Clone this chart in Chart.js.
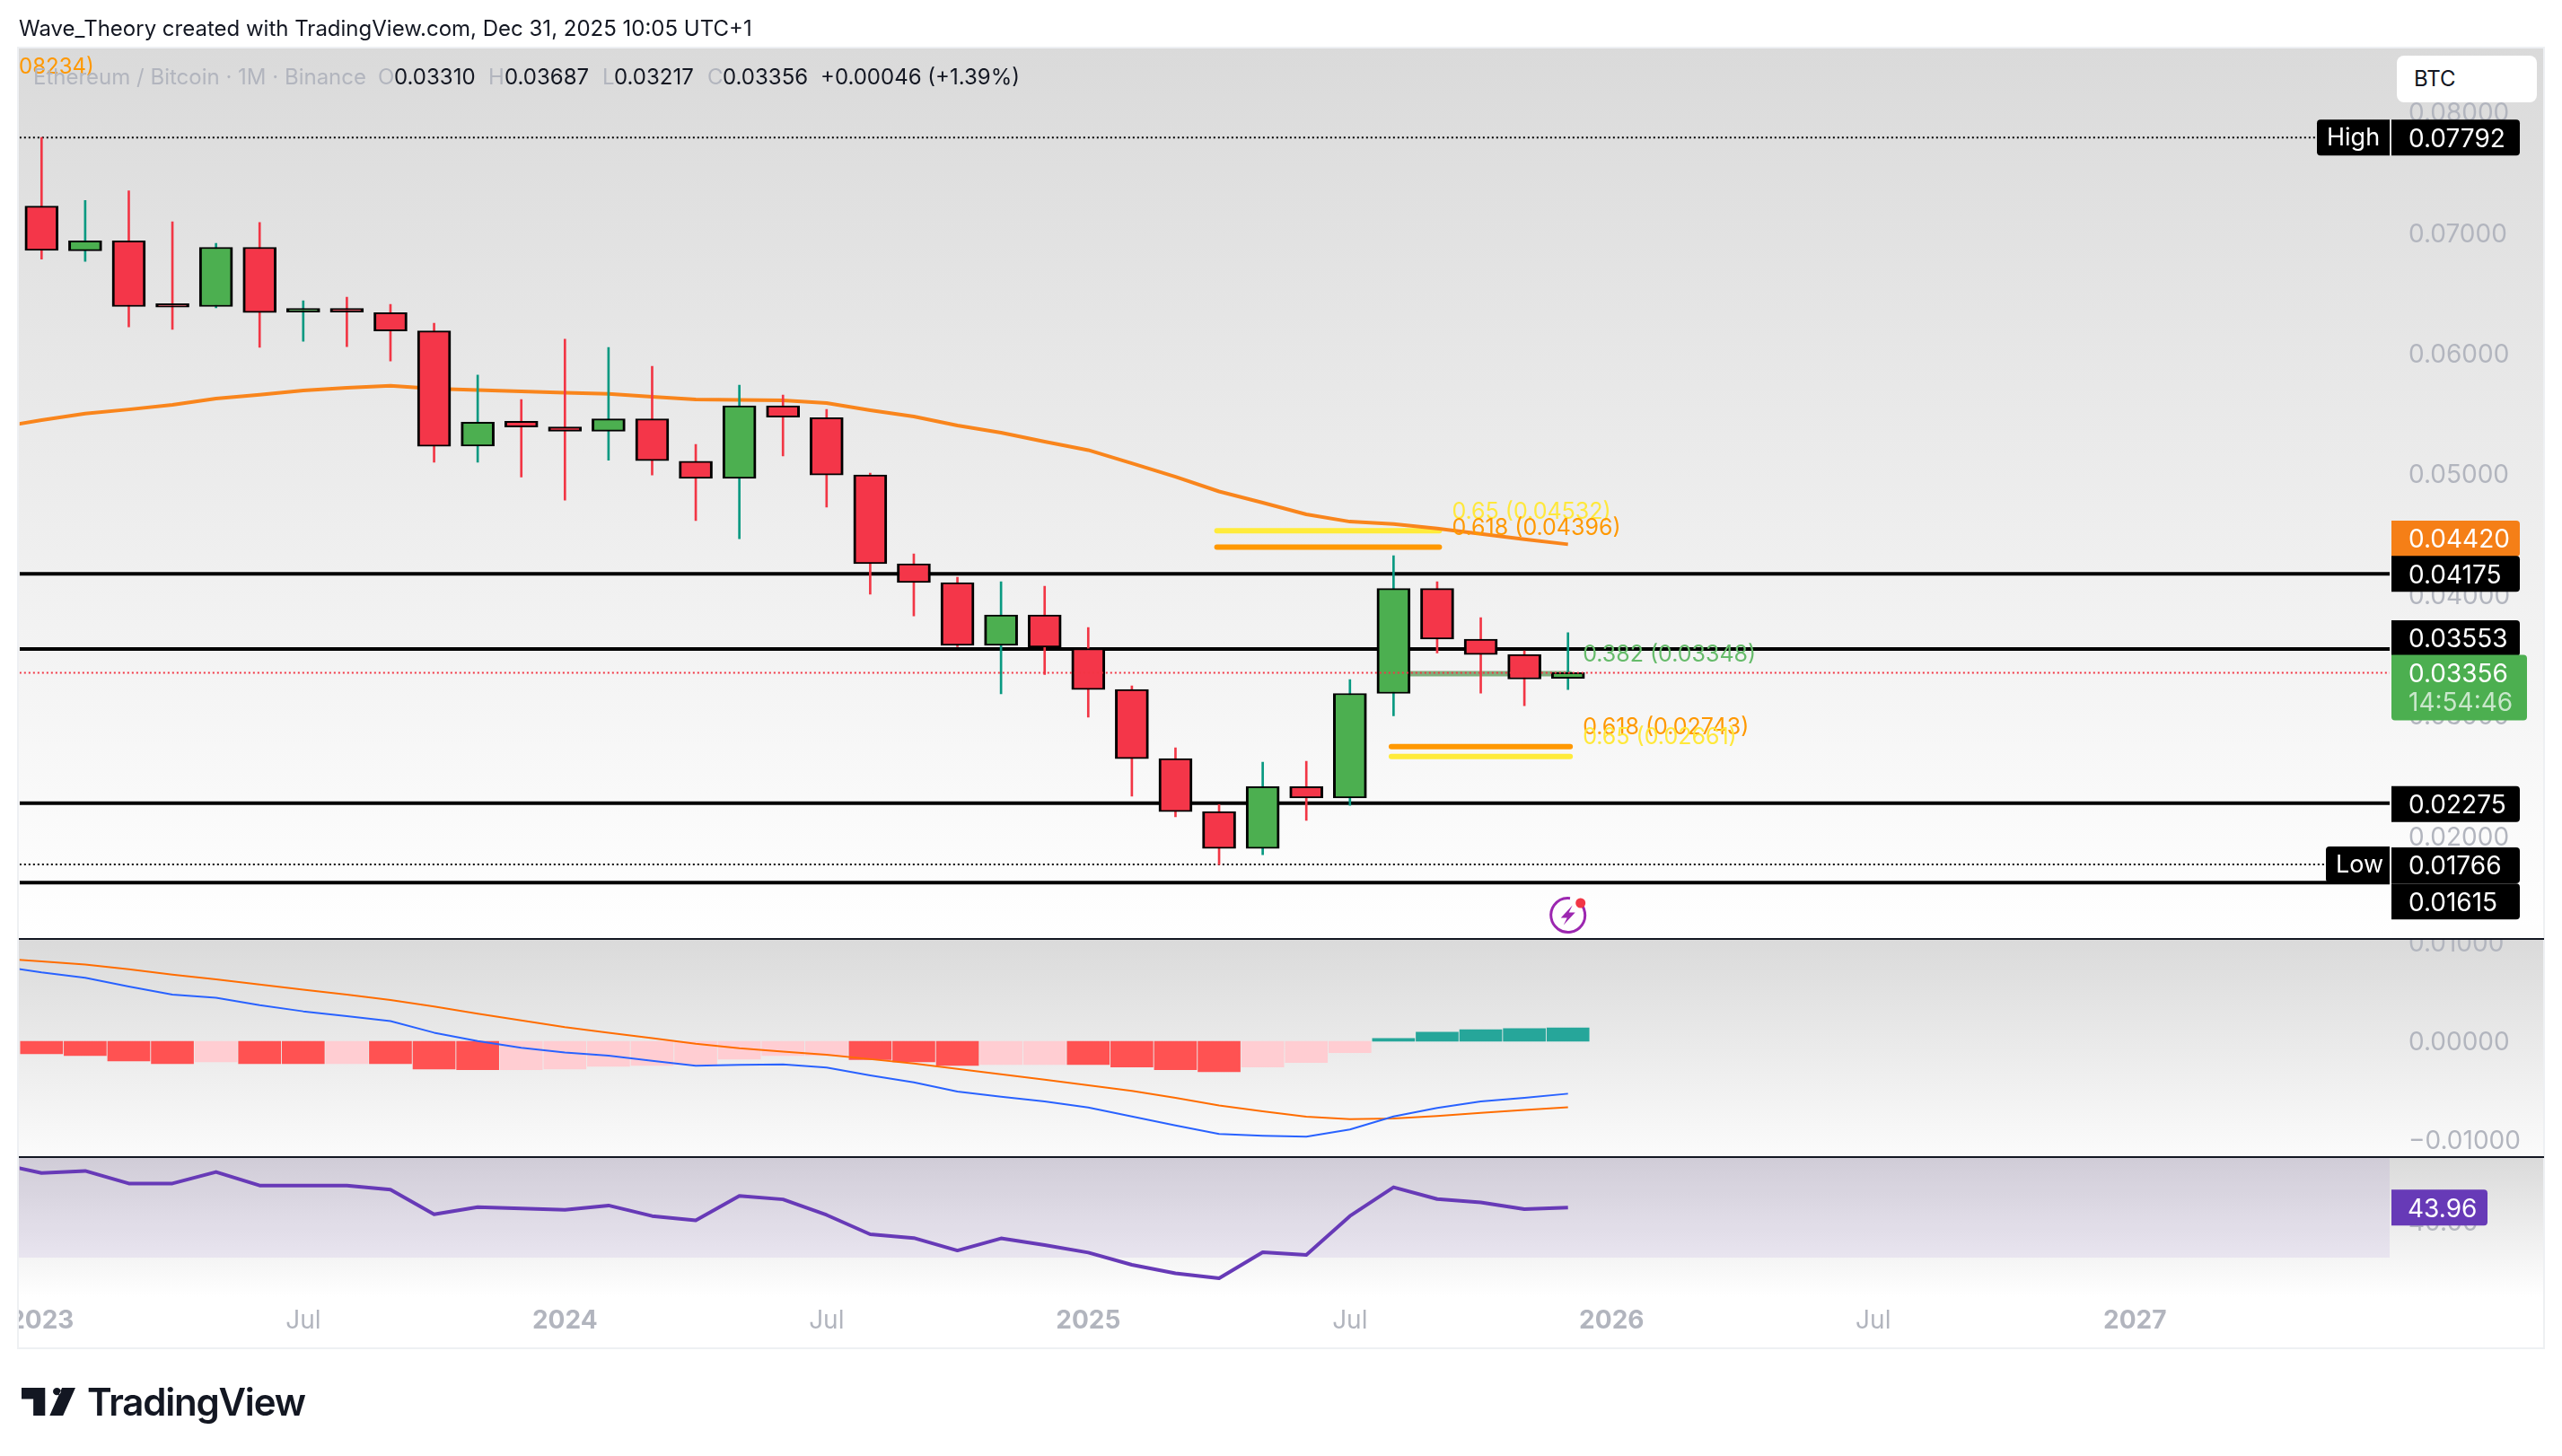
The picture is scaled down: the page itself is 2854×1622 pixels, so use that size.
<!DOCTYPE html>
<html>
<head>
<meta charset="utf-8">
<title>ETH/BTC</title>
<script src="https://cdn.jsdelivr.net/npm/chart.js@4/dist/chart.umd.js"></script>
<style>
  html, body { margin: 0; padding: 0; background: #fff; }
  body { width: 2854px; height: 1622px; position: relative; overflow: hidden; font-family: Inter, sans-serif; }
  canvas { position: absolute; left: 0; top: 0; }
  .t { position: absolute; white-space: nowrap; font-size: 24px; line-height: 30px; color: #131722; }
  .g { color: #b2b5be; }
  #btc { position: absolute; left: 2670px; top: 62px; width: 156px; height: 52px; background: #fff; border-radius: 8px; }
  #btc span { position: absolute; left: 19px; top: 11px; font-size: 24px; line-height: 30px; color: #131722; }
  #logo { position: absolute; left: 24px; top: 1546px; }
  #logotext { position: absolute; left: 97px; top: 1538px; font-size: 42px; line-height: 48px; font-weight: 600; letter-spacing: -1.2px; color: #131722; }
</style>
</head>
<body>
<canvas id="chart" width="2854" height="1622"></canvas>
<div class="t" style="left:21px;top:17px">Wave_Theory created with TradingView.com, Dec 31, 2025 10:05 UTC+1</div>
<div class="t" style="left:21px;top:59px;color:#ff9800">08234)</div>
<div class="t g" style="left:37px;top:71px">Ethereum / Bitcoin · 1M · Binance</div>
<div class="t g" style="left:421px;top:71px">O</div><div class="t" style="left:439px;top:71px">0.03310</div>
<div class="t g" style="left:544px;top:71px">H</div><div class="t" style="left:562px;top:71px">0.03687</div>
<div class="t g" style="left:671px;top:71px">L</div><div class="t" style="left:684px;top:71px">0.03217</div>
<div class="t g" style="left:788px;top:71px">C</div><div class="t" style="left:805px;top:71px">0.03356</div>
<div class="t" style="left:914px;top:71px">+0.00046 (+1.39%)</div>
<div id="btc"><span>BTC</span></div>
<svg id="logo" width="60" height="31" viewBox="2 6 27.4 15" preserveAspectRatio="none"><path fill="#131722" d="M14 6H2v6h6v9h6V6Zm8 2a2 2 0 1 1-4 0 2 2 0 0 1 4 0Zm-5.7 13h6.8l6.3-15h-6.8l-6.3 15Z"/></svg>
<div id="logotext">TradingView</div>
<script>
// monthly candles, Jan 2023 .. Dec 2025, x is the month index
const opens  = [0.07223,0.06853,0.06936,0.06396,0.06391,0.06882,0.06345,0.06355,0.0634,0.06189,0.05235,0.05439,0.05393,0.05357,0.0546,0.05108,0.04966,0.05568,0.05469,0.04995,0.04259,0.04103,0.03582,0.03835,0.03556,0.03217,0.02644,0.02205,0.019,0.02411,0.02317,0.03184,0.04053,0.03634,0.03507,0.0331];
const highs  = [0.07792,0.07271,0.0735,0.07093,0.06915,0.07087,0.06439,0.06469,0.06409,0.06253,0.05822,0.05621,0.0612,0.06052,0.05896,0.05248,0.05739,0.05658,0.05538,0.0501,0.04341,0.04147,0.0411,0.04073,0.03731,0.03247,0.02734,0.02262,0.02615,0.02622,0.03299,0.04326,0.0411,0.03812,0.03537,0.03687];
const lows   = [0.06784,0.06766,0.06223,0.06201,0.0638,0.06052,0.06104,0.06059,0.0594,0.051,0.051,0.04978,0.04787,0.05117,0.04995,0.04616,0.04467,0.05152,0.04728,0.04006,0.03827,0.03571,0.0318,0.03341,0.02987,0.02332,0.02161,0.01766,0.01848,0.02131,0.02257,0.02998,0.03519,0.03187,0.03083,0.03217];
const closes = [0.06856,0.06936,0.06391,0.06385,0.06882,0.06342,0.06355,0.06345,0.06189,0.05233,0.05433,0.05393,0.05357,0.0546,0.05114,0.04966,0.05568,0.05475,0.04995,0.04259,0.04103,0.03582,0.03835,0.03567,0.03217,0.02644,0.02205,0.019,0.02411,0.02317,0.03184,0.04053,0.03634,0.03507,0.03303,0.03356];

// these two start one month before the first candle, the pane clips it
const emaValues = [0.0539,0.05449,0.05503,0.05538,0.05576,0.05628,0.0566,0.05695,0.05717,0.05735,0.0571,0.05698,0.05687,0.05676,0.05668,0.05643,0.0562,0.05617,0.05613,0.05591,0.05531,0.05479,0.05405,0.05345,0.05271,0.05201,0.05092,0.0498,0.04858,0.04765,0.04668,0.04608,0.04589,0.04552,0.04507,0.04462,0.0442];
const macdValues = [0.00763,0.00698,0.00643,0.00554,0.00472,0.00441,0.00365,0.00303,0.00255,0.00204,0.00087,0.00001,-0.00067,-0.00115,-0.00146,-0.00198,-0.00249,-0.00239,-0.00235,-0.00266,-0.00345,-0.00417,-0.0051,-0.00561,-0.0061,-0.00671,-0.00761,-0.00853,-0.00939,-0.00956,-0.00966,-0.00894,-0.00761,-0.00675,-0.0061,-0.00572,-0.00531];
const signalValues = [0.00839,0.00808,0.00777,0.00729,0.00674,0.00626,0.00575,0.00523,0.00472,0.00417,0.00351,0.00279,0.00211,0.00142,0.00087,0.00032,-0.00026,-0.00071,-0.00105,-0.00136,-0.00181,-0.00225,-0.0028,-0.00335,-0.0039,-0.00445,-0.00503,-0.00572,-0.00651,-0.00709,-0.00764,-0.00788,-0.00781,-0.00757,-0.00726,-0.00695,-0.00668];
const rsiValues = [56.22,53.58,54.14,50.65,50.65,53.86,50.09,50.09,50.09,48.95,42.06,44.05,43.67,43.29,44.52,41.59,40.37,47.16,46.22,41.88,36.5,35.46,31.97,35.36,33.48,31.4,28,25.64,24.23,31.5,30.74,41.59,49.61,46.31,45.37,43.48,43.96];

const histValues = [-0.00127,-0.00145,-0.00199,-0.00226,-0.00209,-0.00226,-0.00226,-0.00226,-0.00226,-0.00282,-0.00288,-0.00288,-0.00282,-0.00254,-0.00245,-0.00236,-0.00182,-0.00145,-0.00145,-0.00185,-0.00209,-0.00244,-0.00236,-0.00236,-0.00236,-0.00261,-0.00288,-0.00309,-0.00261,-0.00216,-0.00116,0.00029,0.00091,0.00118,0.00128,0.00136];
const histFalling = [1,1,1,1,0,1,1,0,1,1,1,0,0,0,0,0,0,0,0,1,1,1,0,0,1,1,1,1,0,0,0,0,0,0,0,0];

const levelValues = [0.04175,0.03553,0.02275,0.01615];
const highValue = 0.07792;
const lowValue = 0.01766;
const lastValue = 0.03356;

const fibNames = ['0.65 (0.04532)','0.618 (0.04396)','0.382 (0.03348)','0.618 (0.02743)','0.65 (0.02661)'];
const fibValues = [0.04532,0.04396,0.03348,0.02743,0.02661];
const fibStart = [26.95,26.95,30.95,30.95,30.95];
const fibEnd = [32.05,32.05,35.05,35.05,35.05];
const fibColors = ['#ffeb3b','#ff9800','#7fae7c','#ff9800','#ffeb3b'];
const fibTextColors = ['#ffe83b','#ff9800','#66bb6a','#ff9800','#ffe83b'];

const xTickIndex = [0,6,12,18,24,30,36,42,48];
const xTickLabels = ['2023','Jul','2024','Jul','2025','Jul','2026','Jul','2027'];
const priceTicks = [0.02,0.03,0.04,0.05,0.06,0.07,0.08];
const macdTicks = [-0.01,0,0.01];
const rsiTicks = [40];

const FONT = 'Inter, sans-serif';
const RED = '#f23645', GREEN = '#4caf50', WICK_GREEN = '#089981';
const months = opens.map((v, i) => i);
const preMonths = [-1].concat(months);
const xMin = -0.504, xMax = 53.84;

function series(xs, ys) {
    return xs.map((x, i) => ({ x: x, y: ys[i] }));
}

function hline(value, x0, x1, color, width, dash, order, cap) {
    return {
        type: 'line', yAxisID: 'price', order: order,
        data: [{ x: x0, y: value }, { x: x1, y: value }],
        borderColor: color, borderWidth: width, borderDash: dash || [],
        borderCapStyle: cap || 'butt', pointRadius: 0, tension: 0
    };
}

function pathLine(yAxisID, ys, color, width, order) {
    return {
        type: 'line', yAxisID: yAxisID, order: order,
        data: series(preMonths, ys),
        borderColor: color, borderWidth: width, pointRadius: 0, tension: 0, borderJoinStyle: 'round'
    };
}

const datasets = [];
levelValues.forEach(v => datasets.push(hline(v, xMin, xMax, '#000', 4, null, 6)));
datasets.push(hline(highValue, xMin, xMax, '#000', 2, [2, 3], 6));
datasets.push(hline(lowValue, xMin, xMax, '#000', 2, [2, 3], 6));
fibValues.forEach((v, i) => datasets.push(hline(v, fibStart[i], fibEnd[i], fibColors[i], 6, null, 5, 'round')));
datasets.push(pathLine('price', emaValues, '#f9851c', 4, 4));
datasets.push({
    type: 'bar', yAxisID: 'price', order: 3, grouped: false, barThickness: 2,
    data: series(months, months.map(i => [lows[i], highs[i]])),
    backgroundColor: months.map(i => closes[i] >= opens[i] ? WICK_GREEN : RED)
});
datasets.push({
    type: 'bar', yAxisID: 'price', order: 2, grouped: false, barThickness: 37, minBarLength: 4,
    data: series(months, months.map(i => [opens[i], closes[i]])),
    backgroundColor: months.map(i => closes[i] >= opens[i] ? GREEN : '#f43649'),
    borderColor: '#000', borderWidth: { top: 2, bottom: 2, left: 3, right: 3 }, borderSkipped: false
});
datasets.push(hline(lastValue, xMin, xMax, RED, 2, [2, 3], 1));

datasets.push({
    type: 'bar', yAxisID: 'macd', order: 3, grouped: false, barThickness: 47,
    data: series(months, histValues),
    backgroundColor: months.map(i => histValues[i] >= 0 ? '#26a69a' : (histFalling[i] ? '#ff5252' : '#ffcdd2'))
});
datasets.push(pathLine('macd', signalValues, '#ff6d00', 2, 2));
datasets.push(pathLine('macd', macdValues, '#2962ff', 2, 1));
datasets.push(pathLine('rsi', rsiValues, '#673ab7', 4, 1));

function paneScale(weight, stackWeight, min, max, ticks, fmt) {
    return {
        type: 'linear', axis: 'y', position: 'right', stack: 'panes', weight: weight, stackWeight: stackWeight,
        min: min, max: max, beginAtZero: false, offset: false,
        grid: { display: false, drawTicks: false }, border: { display: false },
        afterFit: s => { s.width = 172; },
        afterBuildTicks: s => { s.ticks = ticks.map(v => ({ value: v })); },
        ticks: {
            padding: 21, color: '#b2b5be', autoSkip: false, maxRotation: 0, labelOffset: 1.5,
            font: { family: FONT, size: 28 }, callback: fmt
        }
    };
}

const panes = {
    id: 'panes',
    beforeDraw(chart) {
        const ctx = chart.ctx, s = chart.scales;
        [s.price, s.macd, s.rsi].forEach((y, i) => {
            const g = ctx.createLinearGradient(0, y.top, 0, y.bottom);
            g.addColorStop(0, '#dadada');
            g.addColorStop(1, i === 1 ? '#fbfbfb' : '#ffffff');
            ctx.fillStyle = g;
            ctx.fillRect(21, y.top, 2813, y.bottom - y.top);
        });
        // rsi band, the 70 line is above the pane here
        const top = s.rsi.top, bottom = s.rsi.getPixelForValue(30);
        ctx.fillStyle = 'rgba(126,87,194,0.1)';
        ctx.fillRect(21, top, s.x.right - 21, bottom - top);
    },
    afterDraw(chart) {
        const ctx = chart.ctx, s = chart.scales, price = s.price;
        ctx.save();

        // clipped axis text: 2023 on the left, 0.01000 at the top of macd
        ctx.fillStyle = '#fff';
        ctx.fillRect(0, 1446, 20, 50);
        ctx.fillStyle = '#fefefe';
        ctx.fillRect(2664, 1030, 168, 16);

        // pane separators and frame
        ctx.strokeStyle = '#eef0f3';
        ctx.lineWidth = 2;
        ctx.strokeRect(20, 53, 2814, 1449);
        ctx.fillStyle = '#131722';
        ctx.fillRect(21, s.macd.top - 1, 2813, 2);
        ctx.fillRect(21, s.rsi.top - 1, 2813, 2);

        // fib labels
        ctx.font = '25px ' + FONT;
        ctx.textAlign = 'left';
        ctx.textBaseline = 'middle';
        fibNames.forEach((name, i) => {
            ctx.fillStyle = fibTextColors[i];
            ctx.fillText(name, s.x.getPixelForValue(fibEnd[i]) + 14, price.getPixelForValue(fibValues[i]) - 21);
        });

        // axis tags
        const tag = (scale, value, shift, color, text, w) => {
            const y = scale.getPixelForValue(value) + shift;
            ctx.fillStyle = color;
            ctx.beginPath();
            ctx.roundRect(2664, y - 20, w || 143, 40, [0, 4, 4, 0]);
            ctx.fill();
            ctx.fillStyle = '#fff';
            ctx.textAlign = 'left';
            ctx.font = '28px ' + FONT;
            ctx.fillText(text, 2683, y + 2);
        };
        const sideTag = (value, x, text) => {
            const y = price.getPixelForValue(value);
            ctx.fillStyle = '#000';
            ctx.beginPath();
            ctx.roundRect(x, y - 20, 2662 - x, 40, [4, 0, 0, 4]);
            ctx.fill();
            ctx.fillStyle = '#fff';
            ctx.font = '27px ' + FONT;
            ctx.fillText(text, x + 11, y + 1);
        };
        tag(price, highValue, 0, '#000', highValue.toFixed(5));
        sideTag(highValue, 2581, 'High');
        tag(price, emaValues[emaValues.length - 1], -6.5, '#f57f17', '0.04420');
        tag(price, levelValues[0], 0, '#000', levelValues[0].toFixed(5));
        tag(price, levelValues[1], -12, '#000', levelValues[1].toFixed(5));
        tag(price, levelValues[2], 1, '#000', levelValues[2].toFixed(5));
        tag(price, lowValue, 1, '#000', lowValue.toFixed(5));
        sideTag(lowValue, 2591, 'Low');
        tag(price, levelValues[3], 21, '#000', levelValues[3].toFixed(5));

        const ly = price.getPixelForValue(lastValue);
        ctx.fillStyle = GREEN;
        ctx.beginPath();
        ctx.roundRect(2664, ly - 20, 151, 73, [0, 4, 4, 4]);
        ctx.fill();
        ctx.fillStyle = '#fff';
        ctx.font = '28px ' + FONT;
        ctx.fillText(lastValue.toFixed(5), 2683, ly + 2);
        ctx.fillStyle = 'rgba(255,255,255,0.7)';
        ctx.fillText('14:54:46', 2683, ly + 34);

        const ry = s.rsi.getPixelForValue(rsiValues[rsiValues.length - 1]);
        ctx.fillStyle = '#673ab7';
        ctx.beginPath();
        ctx.roundRect(2664, ry - 20, 107, 40, [0, 4, 4, 0]);
        ctx.fill();
        ctx.fillStyle = '#fff';
        ctx.fillText(rsiValues[rsiValues.length - 1].toFixed(2), 2682, ry + 2);

        // lightning marker under the last candle
        const cx = s.x.getPixelForValue(35), cy = 1019.5;
        ctx.strokeStyle = '#9c27b0';
        ctx.lineWidth = 3;
        ctx.beginPath();
        ctx.arc(cx, cy, 19, -0.95, Math.PI * 2 - 1.45);
        ctx.stroke();
        ctx.fillStyle = '#9c27b0';
        ctx.beginPath();
        ctx.moveTo(cx + 5, cy - 11);
        ctx.lineTo(cx - 8, cy + 3);
        ctx.lineTo(cx - 1, cy + 3);
        ctx.lineTo(cx - 5, cy + 11);
        ctx.lineTo(cx + 8, cy - 3);
        ctx.lineTo(cx + 1, cy - 3);
        ctx.closePath();
        ctx.fill();
        ctx.fillStyle = '#f23645';
        ctx.beginPath();
        ctx.arc(cx + 14, 1006, 5.5, 0, Math.PI * 2);
        ctx.fill();

        ctx.restore();
    }
};

new Chart(document.getElementById('chart'), {
    type: 'bar',
    data: { datasets: datasets },
    plugins: [panes],
    options: {
        responsive: false,
        animation: false,
        devicePixelRatio: 1,
        layout: { padding: { left: 21, top: 54, right: 20, bottom: 120 } },
        plugins: { legend: { display: false }, tooltip: { enabled: false } },
        scales: {
            x: {
                type: 'linear', position: 'bottom', min: xMin, max: xMax, offset: false,
                grid: { display: false, drawTicks: false, offset: false }, border: { display: false },
                afterFit: s => { s.height = 57; },
                afterBuildTicks: s => { s.ticks = xTickIndex.map(v => ({ value: v })); },
                ticks: {
                    padding: 10, color: '#b2b5be', autoSkip: false, maxRotation: 0, minRotation: 0,
                    font: c => ({ family: FONT, size: 28, weight: c.index % 2 === 0 ? '700' : '400' }),
                    callback: v => xTickLabels[xTickIndex.indexOf(v)]
                }
            },
            price: paneScale(1, 992, 0.01149, 0.0853, priceTicks, v => v.toFixed(5)),
            macd: paneScale(2, 243, -0.01173, 0.01036, macdTicks, v => (v < 0 ? '\u2212' : '') + Math.abs(v).toFixed(5)),
            rsi: paneScale(3, 156, 19, 58, rsiTicks, v => v.toFixed(2))
        }
    }
});
</script>
</body>
</html>
